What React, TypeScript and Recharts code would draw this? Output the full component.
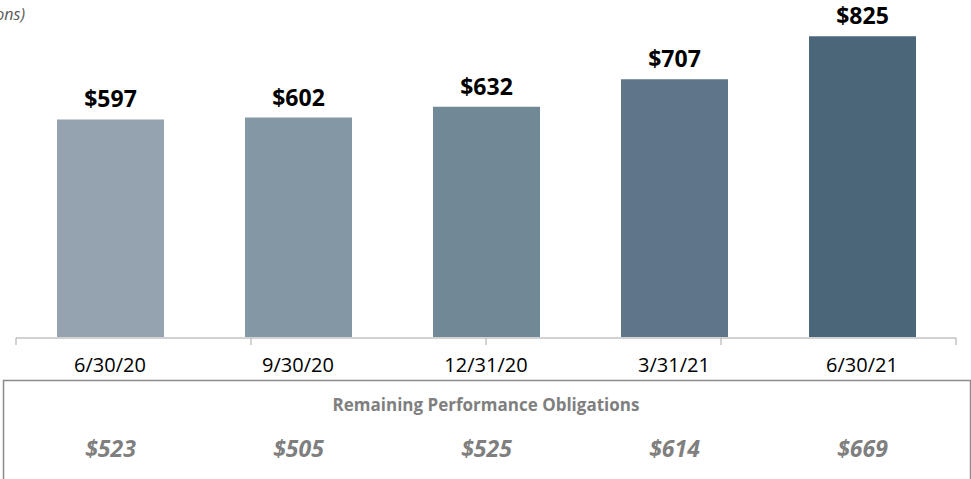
import React from "react";
import { BarChart, Bar, XAxis, YAxis, Cell, LabelList, Customized } from "recharts";

const categories = ["6/30/20", "9/30/20", "12/31/20", "3/31/21", "6/30/21"];
const barValues = [597, 602, 632, 707, 825];
const rpoValues = [523, 505, 525, 614, 669];
const barColors = ["#94a3af", "#8397a4", "#718897", "#5e7688", "#4b6679"];
const boundaryTicks = [0, 1, 2, 3, 4, 5];

const data = categories.map((c, i) => ({ name: c, value: barValues[i], rpo: rpoValues[i] }));

const FONT = "'Open Sans', sans-serif";

const RpoLabel = (props: any) => {
  const { x, width, value } = props;
  return (
    <text
      x={Number(x) + Number(width) / 2}
      y={457}
      textAnchor="middle"
      fontFamily={FONT}
      fontSize={23}
      fontWeight={700}
      fontStyle="italic"
      fill="#7f7f7f"
    >
      {`$${value}`}
    </text>
  );
};

const Decor = () => (
  <g>
    <text x={25} y={20} textAnchor="end" fontFamily={FONT} fontSize={16} fontStyle="italic" fill="#595959">
      (in millions)
    </text>
    <rect x={3.5} y={380.5} width={967} height={110} fill="none" stroke="#8c8c8c" strokeWidth={1.5} />
    <text x={486} y={411} textAnchor="middle" fontFamily={FONT} fontSize={17} fontWeight={700} fill="#7f7f7f">
      Remaining Performance Obligations
    </text>
  </g>
);

export default function App() {
  return (
    <div style={{ position: "absolute", left: 0, top: 0, width: 971, height: 479, background: "#fff" }}>
      <BarChart width={971} height={479} data={data} margin={{ top: 9, right: 15, bottom: 111, left: 16 }}>
        <Customized component={Decor} />
        <XAxis
          xAxisId="edge"
          type="number"
          domain={[0, 5]}
          ticks={boundaryTicks}
          height={30}
          tickSize={7}
          tickFormatter={() => ""}
          axisLine={{ stroke: "#a6a6a6", strokeWidth: 1 }}
          tickLine={{ stroke: "#a6a6a6", strokeWidth: 1 }}
        />
        <XAxis
          xAxisId="cat"
          dataKey="name"
          height={1}
          axisLine={false}
          tickLine={false}
          tickSize={0}
          tickMargin={21}
          interval={0}
          tick={{ fontFamily: FONT, fontSize: 20, fill: "#000" }}
        />
        <YAxis hide domain={[0, 900]} />
        <Bar dataKey="value" xAxisId="cat" barSize={107} isAnimationActive={false}>
          {data.map((d, i) => (
            <Cell key={d.name} fill={barColors[i]} />
          ))}
          <LabelList
            dataKey="value"
            position="top"
            offset={12}
            formatter={(v: any) => `$${v}`}
            style={{ fontFamily: FONT, fontSize: 23, fontWeight: 700, fill: "#000" }}
          />
          <LabelList dataKey="rpo" content={RpoLabel} />
        </Bar>
      </BarChart>
    </div>
  );
}
